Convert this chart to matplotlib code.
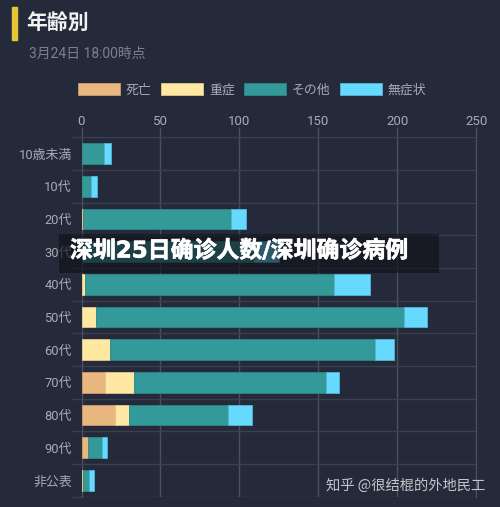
import numpy as np
import matplotlib
matplotlib.use('Agg')
import matplotlib.pyplot as plt
from matplotlib.patches import Rectangle
import matplotlib.patheffects as pe

#values
ages = ['10歳未満', '10代', '20代', '30代', '40代', '50代', '60代', '70代', '80代', '90代', '非公表']
death = [0, 0, 0, 0, 0, 0, 0, 15, 21, 4, 0]
severe = [0, 0, 1, 0, 2, 9, 18, 18, 9, 0, 1]
other = [14, 6, 94, 109, 158, 195, 168, 122, 63, 9, 4]
nosym = [5, 4, 9, 16, 23, 15, 12, 8, 15, 3, 3]
series = [('死亡', death, '#e9b780', '#c99e6b'), ('重症', severe, '#ffe8a3', '#e0c88a'),
          ('その他', other, '#339999', '#2d8585'), ('無症状', nosym, '#66d9ff', '#55b5d8')]
xticks = [0, 50, 100, 150, 200, 250]

W, H = 500, 507
bg = '#252a3b'
grid_v = '#4a4e60'
grid_h = '#3b3f51'
txt_c = '#a9abb3'
jp = ['Roboto', 'Noto Sans CJK JP']
sc = ['Noto Sans CJK SC', 'DejaVu Sans']

fig = plt.figure(figsize=(W/100, H/100), dpi=100, facecolor=bg)
#axes box in pixels: left 81.5, right 476.2, top 137.3, bottom 496.7
ax = fig.add_axes([81.5/W, 1-496.7/H, (476.2-81.5)/W, (496.7-137.3)/H], facecolor=bg)

y = np.arange(len(ages))
left = np.zeros(len(ages))
for name, vals, col, edge in series:
    vals = np.array(vals)
    ax.barh(y, vals, left=left, height=0.63, color=col, edgecolor=edge, linewidth=0.6,
            label=name, zorder=3)
    left = left + vals

ax.set_xlim(0, 250)
ax.set_ylim(len(ages)-0.5, -0.5)
ax.xaxis.tick_top()
ax.set_xticks(xticks)
ax.set_xticklabels(xticks, family=jp)
ax.set_yticks(y)
ax.set_yticklabels(ages, family=jp)
ax.set_yticks(np.arange(-0.5, len(ages)), minor=True)
ax.tick_params(axis='x', colors=grid_v, labelcolor=txt_c, labelsize=9.5, length=7, width=1, pad=-0.5)
ax.tick_params(axis='y', which='major', length=0, labelcolor=txt_c, labelsize=9.3, pad=7)
ax.tick_params(axis='y', which='minor', length=7, width=1, color=grid_h)
ax.grid(axis='x', color=grid_v, lw=1, zorder=1)
ax.grid(axis='y', which='minor', color=grid_h, lw=1, zorder=1)
ax.grid(axis='y', which='major', visible=False)
for s in ax.spines.values():
    s.set_color(grid_h)
ax.spines['right'].set_color(grid_v)
ax.spines['left'].set_color(grid_v)
ax.spines['bottom'].set_visible(False)

ax.legend(loc='lower left', bbox_to_anchor=(-0.009, 1.113), ncol=4, frameon=False,
          prop={'family': jp, 'size': 9.3}, labelcolor=txt_c, handlelength=3.25,
          handleheight=1.0, handletextpad=0.46, columnspacing=0.72, borderaxespad=0, borderpad=0)

#header
fig.add_artist(Rectangle((12/W, 1-40/H), 5/W, 33/H, color='#e6c733', transform=fig.transFigure))
fig.text(26/W, 1-23.5/H, '年齢別', family=jp, size=15, color='#f2f2f2', va='center', weight='bold')
fig.text(29/W, 1-54/H, '3月24日 18:00時点', family=jp, size=10, color='#7d808c', va='center')

#banner over the chart
fig.add_artist(Rectangle((59/W, 1-272.7/H), 380/W, 38.7/H, color='#10111a', alpha=0.65, lw=0,
                         transform=fig.transFigure, zorder=5))
t = fig.text(70/W, 1-251/H, '深圳25日确诊人数/深圳确诊病例', family=['DejaVu Sans', 'Noto Sans CJK SC'],
             size=16.5, color='white', weight='bold', va='center', zorder=6)
t.set_path_effects([pe.withStroke(linewidth=0.5, foreground='white')])

fig.text(326/W, 1-485.5/H, '知乎 @很结棍的外地民工', family=sc, size=10.3, color='#c4c5ca', va='center', zorder=6)

plt.savefig('out.png', dpi=100, facecolor=bg)
